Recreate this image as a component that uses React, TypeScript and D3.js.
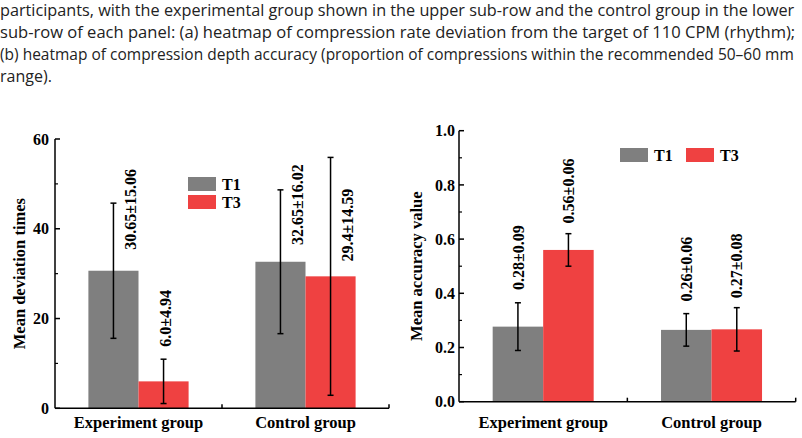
import React, { useEffect, useRef } from "react";
import * as d3 from "d3";

const categories = ["Experiment group", "Control group"];
const seriesNames = ["T1", "T3"];
const seriesColors = ["#7f7f7f", "#ef4141"];

// Panel (a): mean deviation times
const devT1 = [30.65, 32.65];
const devT3 = [6.0, 29.4];
const devErrT1 = [15.06, 16.02];
const devErrT3 = [4.94, 26.5];
const devLabelsT1 = ["30.65±15.06", "32.65±16.02"];
const devLabelsT3 = ["6.0±4.94", "29.4±14.59"];
const devLabelAtT1 = [35.3, 36.4];
const devLabelAtT3 = [13.7, 32.7];
const devLabelDxT1 = [17, 17];
const devLabelDxT3 = [2, 17];
const devTicks = [0, 20, 40, 60];
const devMinorTicks = [10, 30, 50];

// Panel (b): mean accuracy value
const accT1 = [0.277, 0.265];
const accT3 = [0.56, 0.267];
const accErrT1 = [0.088, 0.06];
const accErrT3 = [0.06, 0.08];
const accLabelsT1 = ["0.28±0.09", "0.26±0.06"];
const accLabelsT3 = ["0.56±0.06", "0.27±0.08"];
const accLabelAtT1 = [0.412, 0.37];
const accLabelAtT3 = [0.658, 0.382];
const accLabelDxT1 = [0, 0];
const accLabelDxT3 = [0, 0];
const accTicks = [0, 0.2, 0.4, 0.6, 0.8, 1.0];
const accMinorTicks = [0.1, 0.3, 0.5, 0.7, 0.9];

const captionLines = [
  "participants, with the experimental group shown in the upper sub-row and the control group in the lower",
  "sub-row of each panel: (a) heatmap of compression rate deviation from the target of 110 CPM (rhythm);",
  "(b) heatmap of compression depth accuracy (proportion of compressions within the recommended 50–60 mm",
  "range).",
];
const captionWidths = [795, 796, 794, 0];

const SERIF = "'Liberation Serif', 'Times New Roman', serif";

type PanelProps = {
  x0: number;
  x1: number;
  yBottom: number;
  yTop: number;
  max: number;
  ticks: number[];
  minor: number[];
  fmt: (v: number) => string;
  tickGap: number;
  title: string;
  titleX: number;
  values: number[][];
  errors: number[][];
  labels: string[][];
  labelAt: number[][];
  labelDx: number[][];
  legend: { x: number; y: number; text: string; color: string }[];
};

function Panel(p: PanelProps) {
  const x = d3.scaleBand<string>().domain(categories).range([p.x0, p.x1]).padding(0);
  const bw = x.bandwidth();
  const xs = d3.scaleBand<string>().domain(seriesNames).range([bw * 0.2, bw * 0.8]).padding(0);
  const y = d3.scaleLinear().domain([0, p.max]).range([p.yBottom, p.yTop]);
  const cap = 3;
  const titleY = (p.yTop + p.yBottom) / 2;
  return (
    <g fontFamily={SERIF} fontWeight="bold" fill="#000">
      {categories.map((c, ci) =>
        seriesNames.map((s, si) => {
          const v = p.values[si][ci];
          const e = p.errors[si][ci];
          const bx = (x(c) as number) + (xs(s) as number);
          const cx = bx + xs.bandwidth() / 2;
          const lx = cx + p.labelDx[si][ci];
          const ly = y(p.labelAt[si][ci]);
          return (
            <g key={c + s}>
              <rect x={bx} y={y(v)} width={xs.bandwidth()} height={y(0) - y(v)} fill={seriesColors[si]} />
              <line x1={cx} x2={cx} y1={y(v + e)} y2={y(Math.max(0, v - e))} stroke="#000" strokeWidth={1.5} />
              <line x1={cx - cap} x2={cx + cap} y1={y(v + e)} y2={y(v + e)} stroke="#000" strokeWidth={1.5} />
              <line x1={cx - cap} x2={cx + cap} y1={y(Math.max(0, v - e))} y2={y(Math.max(0, v - e))} stroke="#000" strokeWidth={1.5} />
              <text
                transform={`translate(${lx},${ly}) rotate(-90)`}
                dy="0.35em"
                fontSize={16}
                textAnchor="start"
              >
                {p.labels[si][ci]}
              </text>
            </g>
          );
        })
      )}
      <line x1={p.x0} x2={p.x0} y1={p.yTop} y2={p.yBottom} stroke="#000" strokeWidth={1.5} />
      <line x1={p.x0} x2={p.x1} y1={p.yBottom} y2={p.yBottom} stroke="#000" strokeWidth={1.5} />
      {p.ticks.map((t) => (
        <g key={"t" + t}>
          <line x1={p.x0} x2={p.x0 + 5} y1={y(t)} y2={y(t)} stroke="#000" strokeWidth={1.5} />
          <text x={p.x0 - p.tickGap} y={y(t)} dy="0.35em" textAnchor="end" fontSize={16}>
            {p.fmt(t)}
          </text>
        </g>
      ))}
      {p.minor.map((t) => (
        <line key={"m" + t} x1={p.x0} x2={p.x0 + 3} y1={y(t)} y2={y(t)} stroke="#000" strokeWidth={1.2} />
      ))}
      {categories.map((c) => (
        <g key={"c" + c}>
          <line
            x1={(x(c) as number) + bw}
            x2={(x(c) as number) + bw}
            y1={p.yBottom}
            y2={p.yBottom - 4}
            stroke="#000"
            strokeWidth={1.5}
          />
          <text x={(x(c) as number) + bw / 2} y={428} textAnchor="middle" fontSize={16.5}>
            {c}
          </text>
        </g>
      ))}
      <text transform={`translate(${p.titleX},${titleY}) rotate(-90)`} dy="0.35em" textAnchor="middle" fontSize={16.5}>
        {p.title}
      </text>
      {p.legend.map((l) => (
        <g key={"l" + l.text}>
          <rect x={l.x} y={l.y} width={28} height={14} fill={l.color} />
          <text x={l.x + 34} y={l.y + 7} dy="0.35em" fontSize={16}>
            {l.text}
          </text>
        </g>
      ))}
    </g>
  );
}

function Caption() {
  const ref = useRef<SVGGElement>(null);
  useEffect(() => {
    if (!ref.current) return;
    const texts = ref.current.querySelectorAll("text");
    texts.forEach((t, i) => {
      const target = captionWidths[i];
      if (!target) return;
      const len = (t as SVGTextElement).getComputedTextLength();
      if (len > 0) t.setAttribute("transform", `scale(${target / len},1)`);
    });
  }, []);
  return (
    <g ref={ref} fontFamily="'Open Sans', 'Noto Sans', sans-serif" fontSize={16} fill="#222">
      {captionLines.map((l, i) => (
        <text key={i} x={0} y={16 + i * 21.9}>
          {l}
        </text>
      ))}
    </g>
  );
}

export default function App() {
  return (
    <svg width={802} height={438} style={{ position: "absolute", left: 0, top: 0, background: "#fff" }}>
      <rect x={0} y={0} width={802} height={438} fill="#fff" />
      <Caption />
      <Panel
        x0={55}
        x1={389}
        yBottom={408.3}
        yTop={139}
        max={60}
        ticks={devTicks}
        minor={devMinorTicks}
        fmt={(v) => d3.format("d")(v)}
        tickGap={6}
        title="Mean deviation times"
        titleX={19}
        values={[devT1, devT3]}
        errors={[devErrT1, devErrT3]}
        labels={[devLabelsT1, devLabelsT3]}
        labelAt={[devLabelAtT1, devLabelAtT3]}
        labelDx={[devLabelDxT1, devLabelDxT3]}
        legend={[
          { x: 188, y: 177, text: "T1", color: seriesColors[0] },
          { x: 188, y: 195, text: "T3", color: seriesColors[1] },
        ]}
      />
      <Panel
        x0={459}
        x1={795.7}
        yBottom={401.7}
        yTop={130.7}
        max={1}
        ticks={accTicks}
        minor={accMinorTicks}
        fmt={(v) => d3.format(".1f")(v)}
        tickGap={4}
        title="Mean accuracy value"
        titleX={416}
        values={[accT1, accT3]}
        errors={[accErrT1, accErrT3]}
        labels={[accLabelsT1, accLabelsT3]}
        labelAt={[accLabelAtT1, accLabelAtT3]}
        labelDx={[accLabelDxT1, accLabelDxT3]}
        legend={[
          { x: 620, y: 148, text: "T1", color: seriesColors[0] },
          { x: 686, y: 148, text: "T3", color: seriesColors[1] },
        ]}
      />
    </svg>
  );
}
